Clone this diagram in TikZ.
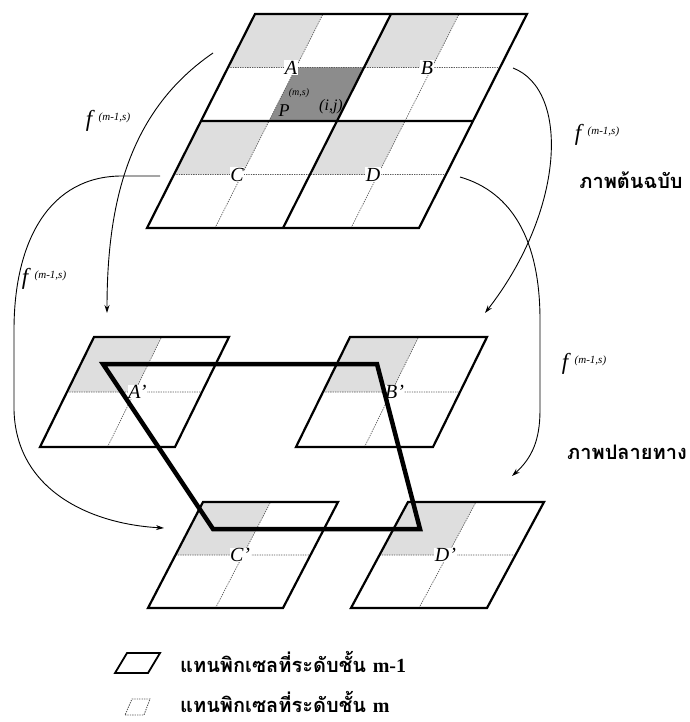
\documentclass[tikz,border=0pt]{standalone}
\usepackage{fontspec}
\setmainfont{Liberation Serif}
\newfontfamily\thaifont[Script=Thai]{Loma}
\usetikzlibrary{arrows.meta}
\definecolor{lgray}{gray}{0.87}
\definecolor{dgray}{gray}{0.55}
\definecolor{dotc}{gray}{0.35}
\tikzset{
  frame/.style={line width=2.2pt, line join=miter},
  dotl/.style={draw=dotc, line width=0.7pt, dash pattern=on 1.3pt off 1.1pt},
  lbl/.style={fill=white, inner sep=0.5pt, font=\fontsize{20}{20}\selectfont\itshape},
  heavy/.style={line width=4.5pt, line join=miter},
  mapar/.style={line width=0.9pt, -{Stealth[length=8pt,width=5pt]}},
  flabel/.style={inner sep=0pt},
  thai/.style={font=\thaifont\bfseries\fontsize{20}{20}\selectfont, inner sep=0pt},
}
\newcommand{\fms}{\fontsize{23}{23}\selectfont\textit{f}\,\raisebox{6pt}{\fontsize{11}{11}\selectfont\textit{(m-1,s)}}}
\newcommand{\smallpar}[1]{%
  \fill[lgray] (0,0.5)--(0.5,0.5)--(0.5,1)--(0,1)--cycle;
  \draw[dotl] (0,0.5)--(1,0.5) (0.5,0)--(0.5,1);
  \draw[frame] (0,0)--(1,0)--(1,1)--(0,1)--cycle;
}
\begin{document}
\begin{tikzpicture}[x=1pt,y=-1pt]
\useasboundingbox (0,0) rectangle (689,722);
\fill[white] (0,0) rectangle (689,722);

% ---- top grid (level m-1 pixels A,B,C,D) ----
\begin{scope}[shift={(147pt,-228pt)}, x={(272pt,0pt)}, y={(108pt,214pt)}]
  \fill[lgray] (0,0.75)--(0.25,0.75)--(0.25,1)--(0,1)--cycle;
  \fill[lgray] (0.5,0.75)--(0.75,0.75)--(0.75,1)--(0.5,1)--cycle;
  \fill[lgray] (0,0.25)--(0.25,0.25)--(0.25,0.5)--(0,0.5)--cycle;
  \fill[lgray] (0.5,0.25)--(0.75,0.25)--(0.75,0.5)--(0.5,0.5)--cycle;
  \fill[dgray] (0.25,0.5)--(0.5,0.5)--(0.5,0.75)--(0.25,0.75)--cycle;
  \draw[dotl] (0,0.25)--(1,0.25) (0,0.75)--(1,0.75) (0.25,0)--(0.25,1) (0.75,0)--(0.75,1);
  \draw[frame] (0,0)--(1,0)--(1,1)--(0,1)--cycle (0,0.5)--(1,0.5) (0.5,0)--(0.5,1);
  \node[lbl, xshift=-5pt] (A) at (0.25,0.75) {A};
  \node[lbl, xshift=-5pt] (B) at (0.75,0.75) {B};
  \node[lbl, xshift=-5pt] (C) at (0.25,0.25) {C};
  \node[lbl, xshift=-5pt] (D) at (0.75,0.25) {D};
\end{scope}
\node[inner sep=0pt, font=\fontsize{18}{18}\selectfont\itshape] (P) at (284,111) {P};
\node[inner sep=0pt, font=\fontsize{10}{10}\selectfont\itshape] (Pms) at (299,93) {(m,s)};
\node[inner sep=0pt, font=\fontsize{16}{16}\selectfont\itshape] (Pij) at (331,107) {(i,j)};

% ---- lower level (level m pixels A',B',C',D') ----
\begin{scope}[shift={(40pt,-447pt)}, x={(135pt,0pt)}, y={(54pt,110pt)}]
  \smallpar{}
  \node[lbl, xshift=3pt] (Ap) at (0.5,0.5) {A’};
\end{scope}
\begin{scope}[shift={(296pt,-447pt)}, x={(137pt,0pt)}, y={(54pt,110pt)}]
  \smallpar{}
  \node[lbl, xshift=3pt] (Bp) at (0.5,0.5) {B’};
\end{scope}
\begin{scope}[shift={(148pt,-608pt)}, x={(135pt,0pt)}, y={(55pt,106pt)}]
  \smallpar{}
  \node[lbl, xshift=-3pt] (Cp) at (0.5,0.5) {C’};
\end{scope}
\begin{scope}[shift={(351pt,-608pt)}, x={(136pt,0pt)}, y={(57pt,106pt)}]
  \smallpar{}
  \node[lbl, xshift=-2pt] (Dp) at (0.5,0.5) {D’};
\end{scope}

% heavy outline of the transformed block
\coordinate (q1) at (103,364);
\coordinate (q2) at (377,364);
\coordinate (q3) at (420,529);
\coordinate (q4) at (213,529);
\draw[heavy] (q1)--(q2)--(q3)--(q4)--cycle;

% ---- mapping arrows ----
\coordinate (a1s) at (213,53);   \coordinate (a1e) at (107,313);
\coordinate (a2s) at (160,176);  \coordinate (a2e) at (164,528);
\coordinate (a3s) at (513,68);   \coordinate (a3e) at (485,313);
\coordinate (a4s) at (460,177);  \coordinate (a4e) at (512,476);
\draw[mapar] (a1s) .. controls (130,110) and (107,200) .. (a1e);
\draw[mapar] (a2s) -- (122,176) .. controls (50,176) and (14,240) .. (14,330) -- (14,410)
   .. controls (16,490) and (90,524) .. (a2e);
\draw[mapar] (a3s) .. controls (570,90) and (565,210) .. (a3e);
\draw[mapar] (a4s) .. controls (512,192) and (540,240) .. (540,320) -- (540,410)
   .. controls (540,440) and (532,458) .. (a4e);

\node[flabel] (f1) at (108,121) {\fms};
\node[flabel] (f2) at (44,279) {\fms};
\node[flabel] (f3) at (597,135) {\fms};
\node[flabel] (f4) at (584,364) {\fms};

\node[thai] (src) at (631,180) {ภาพต้นฉบับ};
\node[thai] (dst) at (627,452) {ภาพปลายทาง};

% ---- legend ----
\draw[line width=1.8pt, line join=miter] (115,673)--(148,673)--(160,653)--(127,653)--cycle;
\draw[dotl, line width=0.9pt] (125,715)--(144,715)--(150,699)--(132,699)--cycle;
\node[thai, anchor=west] (leg1) at (180,662) {แทนพิกเซลที่ระดับชั้น {\rmfamily\bfseries m-1}};
\node[thai, anchor=west] (leg2) at (180,702) {แทนพิกเซลที่ระดับชั้น {\rmfamily\bfseries m}};
\end{tikzpicture}
\end{document}
